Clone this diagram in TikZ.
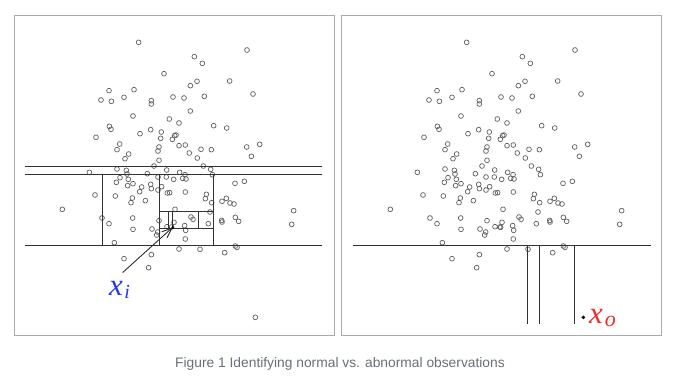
\documentclass[tikz,border=0pt]{standalone}
\usepackage{fontspec}
\setmainfont{Liberation Sans}
\newfontfamily\lblfont{Liberation Serif}
\usetikzlibrary{arrows.meta}
\definecolor{framegray}{RGB}{170,170,170}
\definecolor{linegray}{RGB}{50,50,50}
\definecolor{ptgray}{RGB}{95,95,95}
\definecolor{capgray}{RGB}{105,112,122}
\definecolor{lblblue}{RGB}{35,55,235}
\definecolor{lblred}{RGB}{235,45,40}
\begin{document}
\begin{tikzpicture}[x=1pt,y=-1pt,
  panel/.style={draw=framegray, line width=1pt, minimum width=320pt, minimum height=320pt, inner sep=0pt, anchor=north west},
  split/.style={draw=linegray, line width=1.1pt},
  obs/.style={draw=ptgray, line width=0.7pt},
  lbl/.style={inner sep=0pt, anchor=base west},
  arr/.style={draw=black!85, line width=0.85pt, -{Straight Barb[length=10pt,width=8pt]}}]
\fill[white] (0,0) rectangle (676,381);
\useasboundingbox (0,0) rectangle (676,381);
% panels
\node[panel] (leftpanel) at (13.5,14.5) {};
\node[panel] (rightpanel) at (340.5,14.5) {};
% observations (same sample in both panels)
\def\pts{395/97, 720/120, 562/140, 586/160, 471/191, 668/213, 570/214, 550/227, 738/252, 306/242, 381/239, 282/270, 313/274, 351/262, 433/272, 433/282, 498/261, 531/264, 592/259, 550/303, 378/318, 487/327, 516/339, 620/347, 659/354, 307/349, 312/358, 267/382, 399/371, 431/359, 463/366, 461/385, 503/377, 507/375, 496/388, 516/407, 535/405, 719/411, 758/403, 733/439, 338/402, 330/419, 365/432, 354/446, 456/411, 453/423, 547/429, 582/418, 613/419, 571/444, 456/451, 441/468, 589/468, 611/478, 616/494, 330/477, 358/481, 360/492, 247/487, 339/503, 364/508, 328/517, 378/521, 362/527, 421/491, 453/501, 479/480, 478/501, 500/508, 518/487, 534/494, 527/505, 537/507, 404/531, 398/545, 431/523, 433/536, 453/540, 464/530, 481/549, 488/548, 535/546, 264/555, 325/558, 376/564, 372/578, 415/572, 598/553, 595/566, 614/578, 645/574, 658/565, 669/579, 681/582, 684/520, 712/514, 166/598, 504/598, 609/606, 285/624, 306/641, 377/624, 378/658, 456/632, 435/657, 452/666, 449/675, 480/650, 494/651, 501/637, 533/647, 536/661, 552/621, 558/628, 604/641, 644/631, 645/636, 685/622, 695/634, 535/687, 860/602, 854/643, 322/698, 516/717, 579/718, 653/728, 685/708, 690/712, 351/746, 433/734, 425/773}
\foreach \u/\v in \pts {
  \draw[obs] ({7+\u/3},{10+\v/3}) circle[radius=2.4];
  \draw[obs] ({335+\u/3},{10+\v/3}) circle[radius=2.4];
}
% special points
\coordinate (xi) at ({7+497/3},{10+652/3});
\coordinate (xiright) at ({335+497/3},{10+652/3});
\coordinate (xoleft) at ({7+745/3},{10+922/3});
\coordinate (xo) at ({335+745/3},{10+922/3});
\draw[obs] (xiright) circle[radius=2.4];
\draw[obs] (xoleft) circle[radius=2.4];
% left panel: partitions isolating x_i
\draw[split] (24.5,166.5) -- (321.5,166.5);
\draw[split] (24.5,174.5) -- (321.5,174.5);
\draw[split] (24.5,245.5) -- (321.5,245.5);
\draw[split] (102.5,174.5) -- (102.5,245.5);
\draw[split] (159.5,174.5) -- (159.5,245.5);
\draw[split] (213.5,174.5) -- (213.5,245.5);
\draw[split] (159.5,211.5) -- (213.5,211.5);
\draw[split] (159.5,228.5) -- (213.5,228.5);
\draw[split] (198.5,211.5) -- (198.5,228.5);
\draw[split] (168.5,211.5) -- (168.5,228.5);
\draw[split] (172.5,211.5) -- (172.5,228.5);
\fill[black] (xi) circle[radius=1.5];
% right panel: partitions isolating x_o
\draw[split] (352.5,245.5) -- (650.5,245.5);
\draw[split] (527.5,245.5) -- (527.5,323.5);
\draw[split] (539.5,245.5) -- (539.5,323.5);
\draw[split] (574.5,245.5) -- (574.5,323.5);
\fill[black] (xo) circle[radius=1.9];
% labels
\node[lbl, text=lblblue] (xlab) at (109,295) {\lblfont\itshape\fontsize{31}{31}\selectfont x\kern1.5pt\raisebox{-3pt}{\fontsize{20}{20}\selectfont i}};
\node[lbl, text=lblred] (olab) at (589,323.3) {\lblfont\itshape\fontsize{31}{31}\selectfont x\kern2pt\raisebox{-3.4pt}{\fontsize{22}{22}\selectfont o}};
\draw[arr] ([xshift=3pt,yshift=8pt]xlab.north) -- (xi);
% caption
\node[font=\fontsize{13.8}{16}\selectfont, text=capgray, inner sep=0pt] (cap) at (340,364) {Figure 1 Identifying normal vs. abnormal observations};
\end{tikzpicture}
\end{document}
